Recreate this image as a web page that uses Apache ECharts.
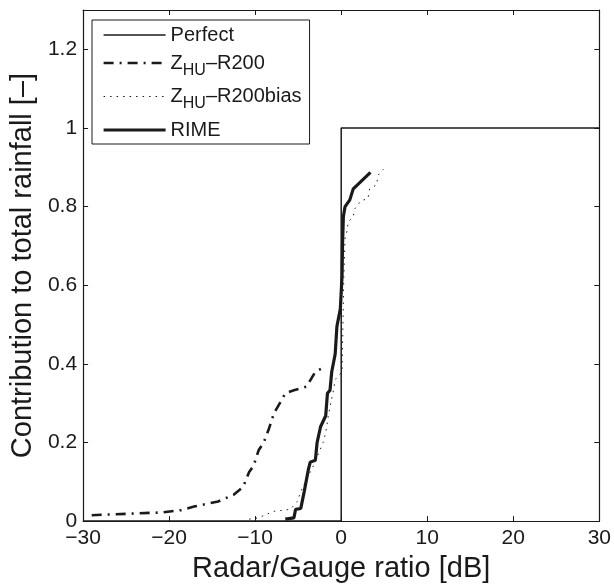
<!DOCTYPE html>
<html>
<head>
<meta charset="utf-8">
<script src="https://cdn.jsdelivr.net/npm/echarts@6/dist/echarts.min.js"></script>
<style>html,body{margin:0;padding:0;background:#fff}#c{width:614px;height:588px}</style>
</head>
<body>
<div id="c"></div>
<script>
// ---- data ----
const seriesNames = ['Perfect', 'ZHU-R200', 'ZHU-R200bias', 'RIME'];
const xTicks = [-30, -20, -10, 0, 10, 20, 30];
const yTicks = [0, 0.2, 0.4, 0.6, 0.8, 1, 1.2];

const perfectX = [-30, 0, 0, 30];
const perfectY = [0, 0, 1, 1];

const zhuX = [-29.0, -20.9, -18.6, -17.1, -14.3, -12.5, -11.4, -10.7, -10.2, -9.6, -9.0, -8.4, -7.8, -7.0, -6.5, -5.5, -4.0, -3.6, -3.0, -2.1];
const zhuY = [0.015, 0.022, 0.028, 0.037, 0.05, 0.067, 0.087, 0.125, 0.14, 0.18, 0.2, 0.235, 0.275, 0.305, 0.325, 0.333, 0.342, 0.358, 0.38, 0.39];

const biasX = [-10.7, -9.7, -8.6, -7.8, -7.0, -5.9, -5.1, -4.7, -4.0, -3.2, -2.1, -1.8, -1.5, -1.3, -0.9, -0.7, 0.1, 0.2, 0.3, 0.45, 0.7, 0.8, 1.4, 1.6, 2.3, 3.1, 3.3, 4.1, 4.3, 4.9];
const biasY = [0.005, 0.008, 0.018, 0.025, 0.027, 0.03, 0.05, 0.075, 0.108, 0.142, 0.2, 0.225, 0.268, 0.29, 0.333, 0.36, 0.38, 0.5, 0.62, 0.72, 0.74, 0.76, 0.775, 0.795, 0.815, 0.82, 0.845, 0.855, 0.88, 0.895];

const rimeX = [-6.5, -5.5, -5.3, -4.7, -4.3, -3.8, -3.6, -3.0, -2.8, -2.4, -1.8, -1.6, -1.3, -1.1, -0.9, -0.7, -0.5, -0.1, 0.1, 0.15, 0.25, 0.45, 1.0, 1.4, 3.4];
const rimeY = [0.005, 0.008, 0.03, 0.032, 0.075, 0.133, 0.15, 0.155, 0.2, 0.24, 0.268, 0.325, 0.333, 0.38, 0.383, 0.425, 0.495, 0.54, 0.625, 0.7, 0.775, 0.8, 0.817, 0.845, 0.887];

function pairs(xs, ys) { return xs.map((x, i) => [x, ys[i]]); }

const FONT = 'Liberation Sans, Arial, Helvetica, sans-serif';
const INK = '#1a1a1a';
const fmtNum = v => String(v).replace('-', '\u2212');

const lineStyles = [
  {color: INK, width: 1.5, type: 'solid'},
  {color: INK, width: 2.6, type: [10, 6, 2, 6]},
  {color: INK, width: 1, type: [1.5, 5]},
  {color: INK, width: 3.2, type: 'solid'}
];

const chart = echarts.init(document.getElementById('c'), null, {renderer: 'canvas'});

const axisLineStyle = {show: true, onZero: false, lineStyle: {color: INK, width: 1.2}};
const tickStyle = {show: true, inside: true, length: 5, lineStyle: {color: INK, width: 1}};

chart.setOption({
  animation: false,
  backgroundColor: '#fff',
  grid: {left: 81, right: 13, top: 10, bottom: 58, containLabel: false},
  legend: {
    orient: 'vertical',
    left: 92, top: 20,
    data: seriesNames.map((n, i) => ({name: n, lineStyle: lineStyles[i]})),
    backgroundColor: '#fff',
    borderColor: INK, borderWidth: 1,
    padding: [5, 8, 4, 10],
    itemWidth: 62, itemHeight: 14, itemGap: 8,
    itemStyle: {color: 'rgba(0,0,0,0)', borderColor: 'rgba(0,0,0,0)', borderWidth: 0},
    textStyle: {
      fontFamily: FONT, fontSize: 20, color: INK,
      rich: {
        n: {fontFamily: FONT, fontSize: 20, color: INK},
        s: {fontFamily: FONT, fontSize: 16, color: INK, padding: [15, 0, 0, 0]}
      }
    },
    formatter: function (name) {
      if (name.indexOf('ZHU') === 0) {
        return '{n|Z}{s|HU}{n|\u2013' + name.slice(4) + '}';
      }
      return '{n|' + name + '}';
    }
  },
  xAxis: [{
    type: 'value', min: -30, max: 30, interval: 10,
    axisLine: axisLineStyle, axisTick: tickStyle,
    splitLine: {show: false},
    axisLabel: {fontFamily: FONT, fontSize: 21, color: INK, margin: 7, formatter: fmtNum},
    name: 'Radar/Gauge ratio [dB]', nameLocation: 'middle', nameGap: 30,
    nameTextStyle: {fontFamily: FONT, fontSize: 29, color: INK}
  }, {
    type: 'value', min: -30, max: 30, interval: 10, position: 'top',
    axisLine: axisLineStyle, axisTick: tickStyle,
    splitLine: {show: false}, axisLabel: {show: false}
  }],
  yAxis: [{
    type: 'value', min: 0, max: 1.3, interval: 0.2,
    axisLine: axisLineStyle, axisTick: tickStyle,
    splitLine: {show: false},
    axisLabel: {fontFamily: FONT, fontSize: 21, color: INK, margin: 6,
      formatter: v => (yTicks.some(t => Math.abs(t - v) < 1e-9) ? String(+v.toFixed(1)) : '')},
    name: 'Contribution to total rainfall [\u2013]', nameLocation: 'middle', nameGap: 37,
    nameTextStyle: {fontFamily: FONT, fontSize: 29, color: INK}
  }, {
    type: 'value', min: 0, max: 1.3, interval: 0.2, position: 'right',
    axisLine: axisLineStyle, axisTick: tickStyle,
    splitLine: {show: false}, axisLabel: {show: false}
  }],
  series: seriesNames.map((n, i) => ({
    name: n, type: 'line', symbol: 'none',
    data: [pairs(perfectX, perfectY), pairs(zhuX, zhuY), pairs(biasX, biasY), pairs(rimeX, rimeY)][i],
    lineStyle: lineStyles[i], itemStyle: {color: INK}, z: [2, 3, 3, 4][i]
  }))
});
</script>
</body>
</html>
